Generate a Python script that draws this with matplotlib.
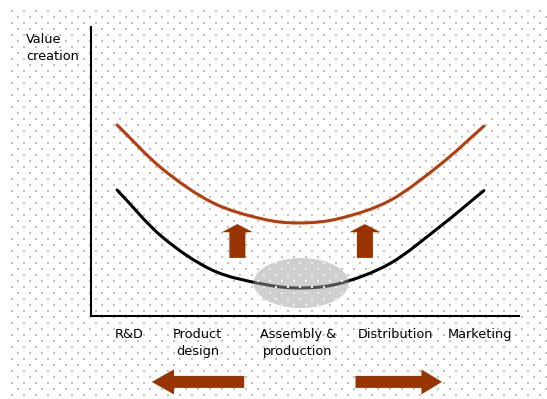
import numpy as np
import matplotlib
matplotlib.use("Agg")
import matplotlib.pyplot as plt
from matplotlib.patches import Ellipse, FancyArrow, PathPatch
from matplotlib.path import Path

# ---- data (value-chain position 0..100, value creation 0..100) ----
stages = ["R&D", "Product\ndesign", "Assembly &\nproduction", "Distribution", "Marketing"]
stage_pos = [9.0, 24.9, 48.3, 71.1, 90.9]

chain_x = [6.1, 16.6, 28.3, 40.0, 48.8, 58.2, 69.9, 81.5, 91.8]
value_high = [66.1, 51.0, 39.3, 33.6, 32.2, 33.8, 40.0, 52.3, 65.7]
value_low = [43.6, 27.4, 15.9, 11.1, 9.7, 11.3, 18.2, 30.9, 43.4]

y_label = "Value\ncreation"

RUST = "#B83C0A"
ARROW = "#993300"
FONT = "DejaVu Sans"
FS = 9.3

W, H = 547, 399
fig = plt.figure(figsize=(W / 100, H / 100), dpi=100)
fig.patch.set_facecolor("white")

# dotted background
bg = fig.add_axes([0, 0, 1, 1])
bg.set_xlim(0, W)
bg.set_ylim(H, 0)
bg.axis("off")
gx, gy = [], []
for r, yy in enumerate(np.arange(10.5, H, 6.0)):
    off = 0 if r % 2 == 0 else 6
    for xx in np.arange(11.5 + off, W, 12.0):
        gx.append(xx)
        gy.append(yy)
bg.scatter(gx, gy, s=1.0, marker="s", color="#c2c2c2", linewidths=0, zorder=0)

# main axes
ax = fig.add_axes([91 / W, (H - 316) / H, 428 / W, 289 / H])
ax.set_facecolor("none")
ax.set_xlim(0, 100)
ax.set_ylim(0, 100)
for s in ["top", "right"]:
    ax.spines[s].set_visible(False)
for s in ["left", "bottom"]:
    ax.spines[s].set_linewidth(1.5)
    ax.spines[s].set_color("black")
ax.set_xticks([])
ax.set_yticks([])


def smooth_path(xs, ys):
    """Catmull-Rom spline through the points, rendered as cubic Bezier segments."""
    pts = np.column_stack([xs, ys]).astype(float)
    n = len(pts)
    verts = [pts[0]]
    codes = [Path.MOVETO]
    for i in range(n - 1):
        p0 = pts[i - 1] if i > 0 else 2 * pts[i] - pts[i + 1]
        p1 = pts[i]
        p2 = pts[i + 1]
        p3 = pts[i + 2] if i + 2 < n else 2 * pts[i + 1] - pts[i]
        c1 = p1 + (p2 - p0) / 6.0
        c2 = p2 - (p3 - p1) / 6.0
        verts += [c1, c2, p2]
        codes += [Path.CURVE4] * 3
    return Path(verts, codes)


ax.add_patch(PathPatch(smooth_path(chain_x, value_high), facecolor="none", edgecolor=RUST,
                       lw=2.2, capstyle="round", zorder=3))
ax.add_patch(PathPatch(smooth_path(chain_x, value_low), facecolor="none", edgecolor="black",
                       lw=2.2, capstyle="round", zorder=3))

ell = Ellipse((49.1, 11.4), 22.2, 17.3, facecolor="#a0a0a0", alpha=0.5, edgecolor="none", zorder=4)
ax.add_patch(ell)
# lighter dots showing through the ellipse
inner = ax.scatter(gx, gy, s=1.0, marker="s", color="#eeeeee", linewidths=0, zorder=5,
                   transform=bg.transData)
inner.set_clip_path(ell)

# upward arrows
for xc in [34.2, 64.0]:
    ax.add_patch(FancyArrow(xc, 20.1, 0, 11.7, width=3.74, head_width=7.24, head_length=2.8,
                            length_includes_head=True, color=ARROW, lw=0, zorder=3))

# horizontal arrows below the axis
ax.add_patch(FancyArrow(35.8, -22.8, -21.6, 0, width=4.15, head_width=8.65, head_length=5.2,
                        length_includes_head=True, color=ARROW, lw=0, clip_on=False, zorder=3))
ax.add_patch(FancyArrow(61.8, -22.8, 20.2, 0, width=4.15, head_width=8.65, head_length=4.8,
                        length_includes_head=True, color=ARROW, lw=0, clip_on=False, zorder=3))

# stage labels
for lab, xp in zip(stages, stage_pos):
    ax.text(xp, -4.0, lab, ha="center", va="top", fontsize=FS, family=FONT,
            linespacing=1.45, clip_on=False)

ax.text(-15.2, 98.0, y_label, ha="left", va="top", fontsize=FS, family=FONT,
        linespacing=1.45, clip_on=False)

fig.savefig("out.png", dpi=100, facecolor="white")
